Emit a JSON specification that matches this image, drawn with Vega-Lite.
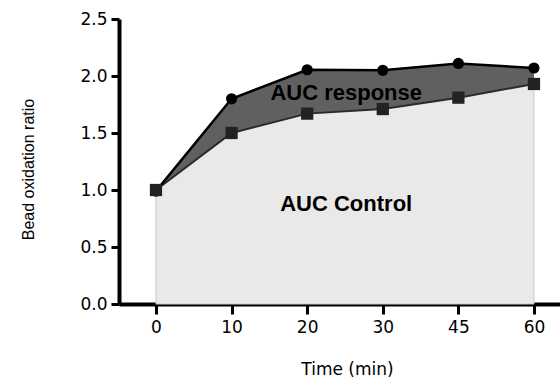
{
  "$schema": "https://vega.github.io/schema/vega-lite/v6.json",
  "width": 441,
  "height": 285,
  "autosize": {"type": "none"},
  "padding": {"left": 119, "top": 19, "right": 0, "bottom": 80},
  "background": "white",
  "config": {
    "view": {"stroke": null},
    "axis": {
      "domainColor": "black",
      "domainWidth": 4,
      "tickColor": "black",
      "tickWidth": 3,
      "labelColor": "black",
      "titleColor": "black",
      "labelFont": "DejaVu Sans",
      "labelFontSize": 17,
      "titleFontWeight": "normal",
      "grid": false
    }
  },
  "data": {
    "values": [
      {"time": "0", "response": 0.99, "control": 1.0},
      {"time": "10", "response": 1.80, "control": 1.50},
      {"time": "20", "response": 2.055, "control": 1.67},
      {"time": "30", "response": 2.05, "control": 1.71},
      {"time": "45", "response": 2.11, "control": 1.81},
      {"time": "60", "response": 2.07, "control": 1.93}
    ]
  },
  "encoding": {
    "x": {
      "field": "time",
      "type": "ordinal",
      "sort": ["0", "10", "20", "30", "45", "60"],
      "scale": {"type": "point", "padding": 0.4167, "align": 0.587},
      "axis": {
        "labelAngle": 0,
        "tickSize": 10,
        "labelPadding": 5,
        "title": "Time (min)",
        "titleFont": "DejaVu Sans",
        "titleFontSize": 17,
        "titleX": 228,
        "titleY": 70,
        "titleAlign": "center",
        "titleBaseline": "alphabetic"
      }
    }
  },
  "layer": [
    {
      "mark": {"type": "area", "color": "#e9e9e9", "stroke": "#c8c8c8", "strokeWidth": 1},
      "encoding": {
        "y": {
          "field": "control",
          "type": "quantitative",
          "scale": {"domain": [0, 2.5], "nice": false},
          "axis": {
            "values": [0, 0.5, 1, 1.5, 2, 2.5],
            "format": ".1f",
            "tickSize": 8,
            "labelPadding": 4,
            "title": "Bead oxidation ratio",
            "titleFont": "Liberation Sans",
            "titleFontSize": 16,
            "titleX": -86,
            "titleY": 150,
            "titleAngle": -90,
            "titleAlign": "center",
            "titleBaseline": "alphabetic"
          }
        },
        "y2": {"datum": 0}
      }
    },
    {
      "mark": {"type": "area", "color": "#606060"},
      "encoding": {
        "y": {"field": "response", "type": "quantitative"},
        "y2": {"field": "control"}
      }
    },
    {
      "mark": {"type": "line", "color": "#2a2a2a", "strokeWidth": 2},
      "encoding": {"y": {"field": "control", "type": "quantitative"}}
    },
    {
      "mark": {"type": "line", "color": "black", "strokeWidth": 2.5},
      "encoding": {"y": {"field": "response", "type": "quantitative"}}
    },
    {
      "mark": {"type": "point", "shape": "circle", "filled": true, "color": "black", "size": 125, "opacity": 1},
      "encoding": {"y": {"field": "response", "type": "quantitative"}}
    },
    {
      "mark": {"type": "point", "shape": "square", "filled": true, "color": "#222222", "size": 150, "opacity": 1},
      "encoding": {"y": {"field": "control", "type": "quantitative"}}
    },
    {
      "data": {
        "values": [
          {"label": "AUC response", "time": "20", "value": 1.79},
          {"label": "AUC Control", "time": "20", "value": 0.816}
        ]
      },
      "mark": {"type": "text", "font": "Liberation Sans", "fontWeight": "bold", "fontSize": 22, "color": "black", "align": "center", "baseline": "alphabetic", "dx": 39},
      "encoding": {
        "y": {"field": "value", "type": "quantitative"},
        "text": {"field": "label"}
      }
    }
  ]
}
